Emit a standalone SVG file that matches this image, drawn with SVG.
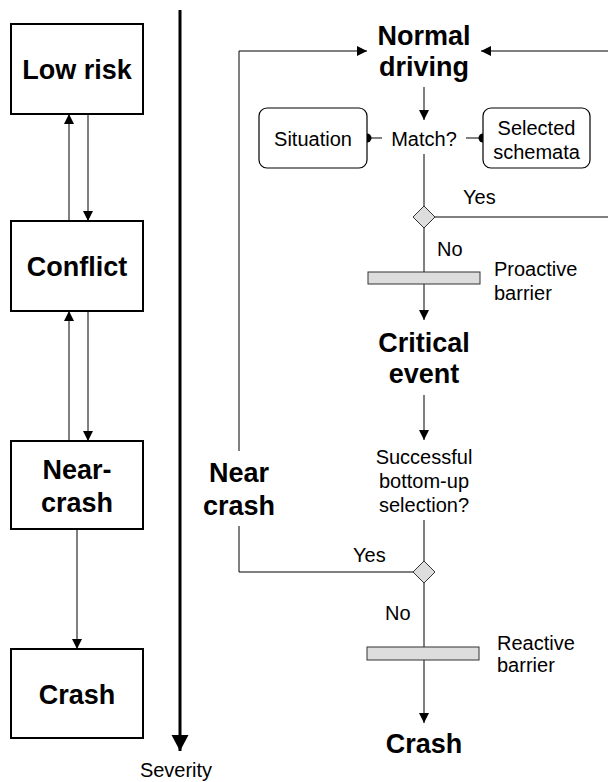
<svg xmlns="http://www.w3.org/2000/svg" width="608" height="782" viewBox="0 0 608 782">
<style>
.big{font-family:"Liberation Sans",Arial,sans-serif;font-weight:bold;font-size:27px;text-anchor:middle;fill:#000}
.sm{font-family:"Liberation Sans",Arial,sans-serif;font-size:20px;fill:#000}
.mid{text-anchor:middle}
.box{fill:#fff;stroke:#000;stroke-width:2}
.rbox{fill:#fff;stroke:#000;stroke-width:1.2}
.ln{fill:none;stroke:#000;stroke-width:1}
.bar{fill:#ddd;stroke:#333;stroke-width:1}
</style>
<defs>
<marker id="ah" markerWidth="10" markerHeight="10" refX="10" refY="5" orient="auto" markerUnits="userSpaceOnUse">
<path d="M0,0 L10,5 L0,10 Z" fill="#000"/>
</marker>
<marker id="bh" markerWidth="18" markerHeight="18" refX="16" refY="8.5" orient="auto" markerUnits="userSpaceOnUse">
<path d="M0,0 L16,8.5 L0,17 Z" fill="#000"/>
</marker>
</defs>
<g id="connectors">
<line class="ln" x1="69" y1="221" x2="69" y2="114" marker-end="url(#ah)"/>
<line class="ln" x1="88" y1="114" x2="88" y2="221" marker-end="url(#ah)"/>
<line class="ln" x1="69" y1="441" x2="69" y2="311" marker-end="url(#ah)"/>
<line class="ln" x1="88" y1="311" x2="88" y2="441" marker-end="url(#ah)"/>
<line class="ln" x1="77" y1="529" x2="77" y2="649" marker-end="url(#ah)"/>
<line x1="180" y1="10" x2="180" y2="751" stroke="#000" stroke-width="3" marker-end="url(#bh)"/>
<polyline class="ln" points="239,451 239,51 367,51" marker-end="url(#ah)"/>
<polyline class="ln" points="239,526 239,572 413,572"/>
<line class="ln" x1="608" y1="51" x2="481" y2="51" marker-end="url(#ah)"/>
<line class="ln" x1="424" y1="87" x2="424" y2="120" marker-end="url(#ah)"/>
<line class="ln" x1="382" y1="138" x2="367" y2="138"/>
<circle cx="367" cy="138" r="4.5" fill="#000"/>
<line class="ln" x1="466" y1="138" x2="483" y2="138"/>
<circle cx="483" cy="138" r="4.5" fill="#000"/>
<line class="ln" x1="424" y1="154" x2="424" y2="206"/>
<line class="ln" x1="435" y1="217" x2="608" y2="217"/>
<line class="ln" x1="424" y1="228" x2="424" y2="320" marker-end="url(#ah)"/>
<line class="ln" x1="424" y1="395" x2="424" y2="440" marker-end="url(#ah)"/>
<line class="ln" x1="424" y1="520" x2="424" y2="561"/>
<line class="ln" x1="424" y1="583" x2="424" y2="723" marker-end="url(#ah)"/>
</g>
<g id="low-risk"><rect class="box" x="11" y="24" width="132" height="90"/><text class="big" x="77" y="79">Low risk</text></g>
<g id="conflict"><rect class="box" x="11" y="221" width="132" height="90"/><text class="big" x="77" y="276">Conflict</text></g>
<g id="near-crash-box"><rect class="box" x="11" y="441" width="132" height="88"/><text class="big" x="77" y="479">Near-</text><text class="big" x="77" y="512">crash</text></g>
<g id="crash-box"><rect class="box" x="11" y="649" width="132" height="89"/><text class="big" x="77" y="704">Crash</text></g>
<g id="severity"><text class="sm mid" x="176" y="777">Severity</text></g>
<g id="normal-driving"><text class="big" x="424" y="45">Normal</text><text class="big" x="424" y="76">driving</text></g>
<g id="situation"><rect class="rbox" x="259" y="108" width="108" height="60" rx="8"/><text class="sm mid" x="313" y="146">Situation</text></g>
<g id="match"><text class="sm mid" x="424" y="146">Match?</text></g>
<g id="schemata"><rect class="rbox" x="483" y="108" width="107" height="60" rx="8"/><text class="sm mid" x="536.5" y="135">Selected</text><text class="sm mid" x="536.5" y="159">schemata</text></g>
<g id="decision1"><polygon class="bar" points="424,206 435,217 424,228 413,217"/><text class="sm" x="463" y="204">Yes</text><text class="sm" x="437" y="256">No</text></g>
<g id="proactive-barrier"><rect class="bar" x="368" y="272" width="112" height="12"/><text class="sm" x="494" y="276">Proactive</text><text class="sm" x="494" y="300">barrier</text></g>
<g id="critical-event"><text class="big" x="424" y="352">Critical</text><text class="big" x="424" y="383">event</text></g>
<g id="bottom-up"><text class="sm mid" x="424" y="464">Successful</text><text class="sm mid" x="424" y="488">bottom-up</text><text class="sm mid" x="424" y="512">selection?</text></g>
<g id="near-crash"><text class="big" x="239" y="482">Near</text><text class="big" x="239" y="515">crash</text></g>
<g id="decision2"><polygon class="bar" points="424,561 435,572 424,583 413,572"/><text class="sm" x="353" y="562">Yes</text><text class="sm" x="385" y="620">No</text></g>
<g id="reactive-barrier"><rect class="bar" x="367" y="647" width="112" height="13"/><text class="sm" x="497" y="650">Reactive</text><text class="sm" x="497" y="672">barrier</text></g>
<g id="crash"><text class="big" x="424" y="753">Crash</text></g>
</svg>
